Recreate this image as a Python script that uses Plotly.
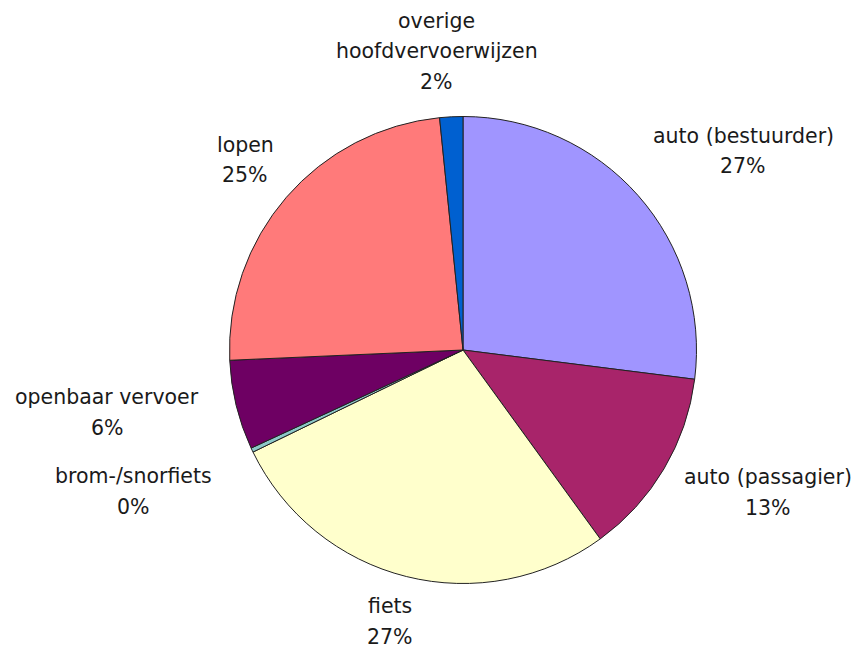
import plotly.graph_objects as go

# Data
categories = ["auto (bestuurder)", "auto (passagier)", "fiets", "brom-/snorfiets",
              "openbaar vervoer", "lopen", "overige hoofdvervoerwijzen"]
shares = [27.0, 13.0, 27.8, 0.3, 6.2, 24.1, 1.6]
pct_labels = ["27%", "13%", "27%", "0%", "6%", "25%", "2%"]
colors = ["#A095FF", "#A8246A", "#FFFFCC", "#8CC8C8", "#6E0063", "#FF7A7A", "#0060D0"]

W, H = 860, 648

fig = go.Figure(go.Pie(
    labels=categories,
    values=shares,
    sort=False,
    direction="clockwise",
    rotation=0,
    textinfo="none",
    hoverinfo="label+percent",
    marker=dict(colors=colors, line=dict(color="#222222", width=1)),
    showlegend=False,
    domain=dict(x=[(463 - 233.5) / W, (463 + 233.5) / W],
                y=[1 - (350 + 233.5) / H, 1 - (350 - 233.5) / H]),
))

# label layout: (lines of text, centre x px, first line centre y px)
label_layout = [
    ([categories[0], pct_labels[0]], 743, 136),
    ([categories[1], pct_labels[1]], 768, 477),
    ([categories[2], pct_labels[2]], 390, 606),
    ([categories[3], pct_labels[3]], 133, 476),
    ([categories[4], pct_labels[4]], 107, 397),
    ([categories[5], pct_labels[5]], 245, 145),
    (["overige", "hoofdvervoerwijzen", pct_labels[6]], 437, 21),
]
line_gap = 30.5

annotations = []
for lines, cx, cy in label_layout:
    for i, t in enumerate(lines):
        annotations.append(dict(
            text=t, x=cx / W, y=1 - (cy + i * line_gap) / H,
            xref="paper", yref="paper", xanchor="center", yanchor="middle",
            showarrow=False,
            font=dict(family="DejaVu Sans", size=20.5, color="#1a1a1a"),
        ))

fig.update_layout(
    width=W, height=H,
    margin=dict(l=0, r=0, t=0, b=0),
    paper_bgcolor="white",
    plot_bgcolor="white",
    annotations=annotations,
)

fig.write_html("out.html",
               config={"displayModeBar": False},
               post_script="document.body.style.margin='0';document.body.style.overflow='hidden';")
